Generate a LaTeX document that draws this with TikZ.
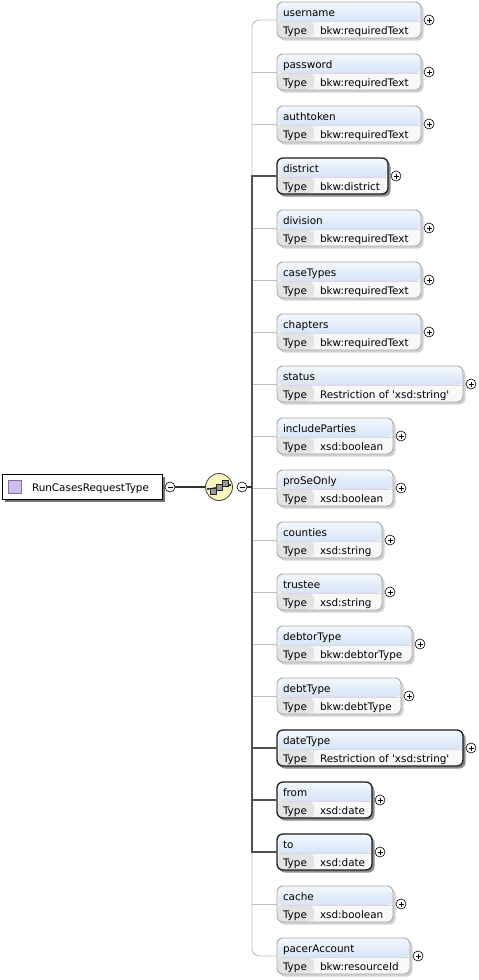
\documentclass[tikz,border=0pt]{standalone}
\usepackage{fontspec}
\setmainfont{DejaVu Sans}
\definecolor{titletop}{HTML}{F4F8FE}
\definecolor{titlebot}{HTML}{BDD1F0}
\definecolor{typecell}{HTML}{E3E3E3}
\definecolor{valcell}{HTML}{F8F8F8}
\definecolor{optborder}{HTML}{A8A8A8}
\definecolor{reqborder}{HTML}{1E1E1E}
\definecolor{optlinecol}{HTML}{BEBEBE}
\definecolor{reqlinecol}{HTML}{505050}
\definecolor{seqfill}{HTML}{FBF5BE}
\definecolor{lavender}{HTML}{CDBFEA}
\definecolor{lavborder}{HTML}{7F6FA8}
\tikzset{
  txt/.style={inner sep=0pt, outer sep=0pt, font=\fontsize{10.4}{12}\selectfont, text=black},
  elbox/.style={rectangle, rounded corners=6pt, inner sep=0pt, outer sep=0pt, fill=valcell,
    path picture={
      \shade[top color=titletop, bottom color=titlebot] (path picture bounding box.north west) rectangle ([yshift=-19pt]path picture bounding box.north east);
      \fill[typecell] ([yshift=-19pt]path picture bounding box.north west) rectangle ([xshift=36pt]path picture bounding box.south west);
      \draw[white!85!black, line width=0.6pt] ([yshift=-19pt]path picture bounding box.north west) -- ([yshift=-19pt]path picture bounding box.north east);
      \draw[white!88!black, line width=0.6pt] ([xshift=36pt,yshift=-19pt]path picture bounding box.north west) -- ([xshift=36pt]path picture bounding box.south west);
    }},
  optbox/.style={draw=optborder, line width=0.9pt},
  reqbox/.style={draw=reqborder, line width=1.3pt},
  optshadow/.style={fill=black!18},
  reqshadow/.style={fill=black!45},
  plussign/.style={circle, draw=black, fill=white, line width=0.6pt, minimum size=10pt, inner sep=0pt,
    path picture={
      \draw[line width=0.6pt] ([xshift=-2.5pt]path picture bounding box.center) -- ([xshift=2.5pt]path picture bounding box.center);
      \draw[line width=0.6pt] ([yshift=-2.5pt]path picture bounding box.center) -- ([yshift=2.5pt]path picture bounding box.center);
    }},
  minussign/.style={circle, draw=black, fill=white, line width=0.6pt, minimum size=10pt, inner sep=0pt,
    path picture={
      \draw[line width=0.6pt] ([xshift=-2.5pt]path picture bounding box.center) -- ([xshift=2.5pt]path picture bounding box.center);
    }},
  optconn/.style={draw=optlinecol, line width=0.9pt},
  reqconn/.style={draw=reqlinecol, line width=2pt},
  rootconn/.style={draw=black!80, line width=1.2pt},
}
\newcommand\xelem[5]{%
  \pgfmathsetmacro\xtop{2+52*#2}%
  \pgfmathsetmacro\xw{#3-277}%
  \fill[#5shadow, rounded corners=6pt] (279,\xtop+2.5) rectangle (#3+2.5,\xtop+38.5);
  \node[elbox, #5box, minimum width=\xw pt, minimum height=36pt, anchor=north west] (e-#1) at (277,\xtop) {};
  \node[txt, anchor=base west] (e-#1-name) at (283,\xtop+14) {#1};
  \node[txt, anchor=base west] (e-#1-type) at (283,\xtop+32) {Type};
  \node[txt, anchor=base west] (e-#1-val) at (320,\xtop+32) {#4};
  \node[plussign] (e-#1-plus) at (#3+8,\xtop+18) {};
}
\begin{document}
\begin{tikzpicture}[x=1pt,y=-1pt]
\useasboundingbox[fill=white] (0,0) rectangle (479,980);
\coordinate (bar) at (252,487);
% elements
\xelem{username}{0}{421}{bkw:requiredText}{opt}
\xelem{password}{1}{421}{bkw:requiredText}{opt}
\xelem{authtoken}{2}{421}{bkw:requiredText}{opt}
\xelem{district}{3}{388}{bkw:district}{req}
\xelem{division}{4}{421}{bkw:requiredText}{opt}
\xelem{caseTypes}{5}{421}{bkw:requiredText}{opt}
\xelem{chapters}{6}{421}{bkw:requiredText}{opt}
\xelem{status}{7}{463}{Restriction of \textquotesingle xsd:string\textquotesingle}{opt}
\xelem{includeParties}{8}{393}{xsd:boolean}{opt}
\xelem{proSeOnly}{9}{393}{xsd:boolean}{opt}
\xelem{counties}{10}{382}{xsd:string}{opt}
\xelem{trustee}{11}{382}{xsd:string}{opt}
\xelem{debtorType}{12}{412}{bkw:debtorType}{opt}
\xelem{debtType}{13}{401}{bkw:debtType}{opt}
\xelem{dateType}{14}{463}{Restriction of \textquotesingle xsd:string\textquotesingle}{req}
\xelem{from}{15}{372}{xsd:date}{req}
\xelem{to}{16}{372}{xsd:date}{req}
\xelem{cache}{17}{393}{xsd:boolean}{opt}
\xelem{pacerAccount}{18}{410}{bkw:resourceId}{opt}
% optional connectors
\draw[optconn, rounded corners=7pt] (e-username.west) -- (e-username.west -| bar) -- (e-pacerAccount.west -| bar) -- (e-pacerAccount.west);
\foreach \n in {password,authtoken,division,caseTypes,chapters,status,includeParties,proSeOnly,counties,trustee,debtorType,debtType,cache}
  \draw[optconn] (e-\n.west -| bar) -- (e-\n.west);
% required connectors
\draw[reqconn] (e-district.west) -- (e-district.west -| bar) -- (e-to.west -| bar) -- (e-to.west);
\draw[reqconn] (e-dateType.west -| bar) -- (e-dateType.west);
\draw[reqconn] (e-from.west -| bar) -- (e-from.west);
% root
\fill[black!55] (4.5,476.5) rectangle (164.5,501.5);
\node[rectangle, draw=black, line width=1pt, fill=white, minimum width=160pt, minimum height=25pt, anchor=north west, inner sep=0pt] (root) at (2,474) {};
\node[rectangle, draw=lavborder, line width=0.6pt, fill=lavender, minimum size=13pt, inner sep=0pt] (root-icon) at (15,487) {};
\node[txt, anchor=base west] (root-name) at (32,491) {RunCasesRequestType};
\node[minussign] (m1) at (170,487) {};
\node[circle, draw=black!75, line width=0.8pt, fill=seqfill, minimum size=27pt, inner sep=0pt] (seq) at (219,487) {};
\node[minussign] (m2) at (242,487) {};
\draw[rootconn] (m1.east) -- (seq.west);
\draw[rootconn] (m2.east) -- (bar);
% sequence icon
\draw[black, line width=0.7pt] (208,489) -- (230,485);
\fill[black] (208,489) circle (1.2pt) (230,485) circle (1.2pt);
\foreach \cx/\cy in {213/491, 219/487, 225/483}
  \filldraw[fill=black!40, draw=black!85, line width=0.5pt] (\cx-3,\cy-3) rectangle (\cx+3,\cy+3);
\end{tikzpicture}
\end{document}
